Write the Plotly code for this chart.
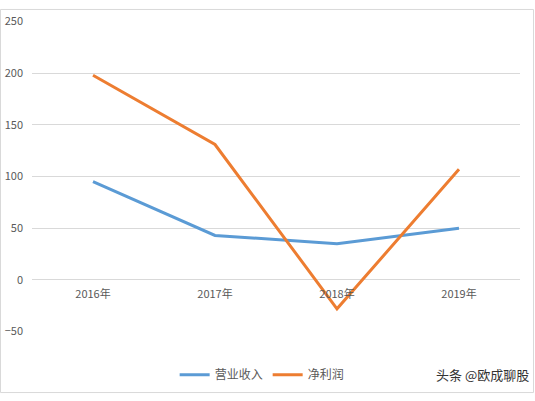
import plotly.graph_objects as go

years = ["2016年", "2017年", "2018年", "2019年"]
revenue = [95, 43, 35, 50]
net_profit = [198, 131, -28, 107]

W, H = 535, 401
font = "Noto Sans CJK SC, Microsoft YaHei, sans-serif"

fig = go.Figure()
fig.add_trace(go.Scatter(x=years, y=revenue, mode="lines", name="营业收入",
                         line=dict(color="#5B9BD5", width=3)))
fig.add_trace(go.Scatter(x=years, y=net_profit, mode="lines", name="净利润",
                         line=dict(color="#ED7D31", width=3)))

# plot area in pixels: x 32..520, y 13..336 (250 .. -50)
x_dom = [32 / W, 520 / W]
y_dom = [(H - 336) / H, (H - 13) / H]
zero_pos = (H - 282) / H  # category labels sit under the zero line

fig.update_layout(
    width=W, height=H,
    margin=dict(l=0, r=0, t=0, b=0),
    paper_bgcolor="white", plot_bgcolor="white",
    font=dict(family=font, size=11, color="#595959"),
    showlegend=True,
    legend=dict(orientation="h", x=0.49, xanchor="center",
                y=(H - 381) / H, yanchor="middle",
                font=dict(size=12, color="#595959"), itemwidth=30),
    xaxis=dict(domain=x_dom, range=[-0.5, 3.5], showgrid=False, showline=False,
               zeroline=False, anchor="free", position=zero_pos, ticks="",
               ticklabelstandoff=6, tickfont=dict(size=11, color="#595959")),
    yaxis=dict(domain=y_dom, range=[-50, 250], dtick=50, showgrid=True,
               gridcolor="#D9D9D9", gridwidth=1, zeroline=False, showline=False,
               ticks="", ticklabelstandoff=8, tickfont=dict(size=11, color="#595959")),
)

# outer chart border
fig.add_shape(type="rect", xref="paper", yref="paper",
              x0=0.5 / W, x1=1 - 1.5 / W, y0=1.5 / H, y1=1 - 0.5 / H,
              line=dict(color="#D9D9D9", width=1), fillcolor="rgba(0,0,0,0)")

# watermark
fig.add_annotation(text="头条 @欧成聊股", xref="paper", yref="paper",
                   x=(W - 4) / W, xanchor="right",
                   y=(H - 381) / H, yanchor="middle",
                   showarrow=False, font=dict(size=13, color="#333333", family=font))

# drop the default page margin so the figure sits at the window's corner
fig.write_html("out.html", post_script="document.body.style.margin='0';",
               config={"displayModeBar": False})
